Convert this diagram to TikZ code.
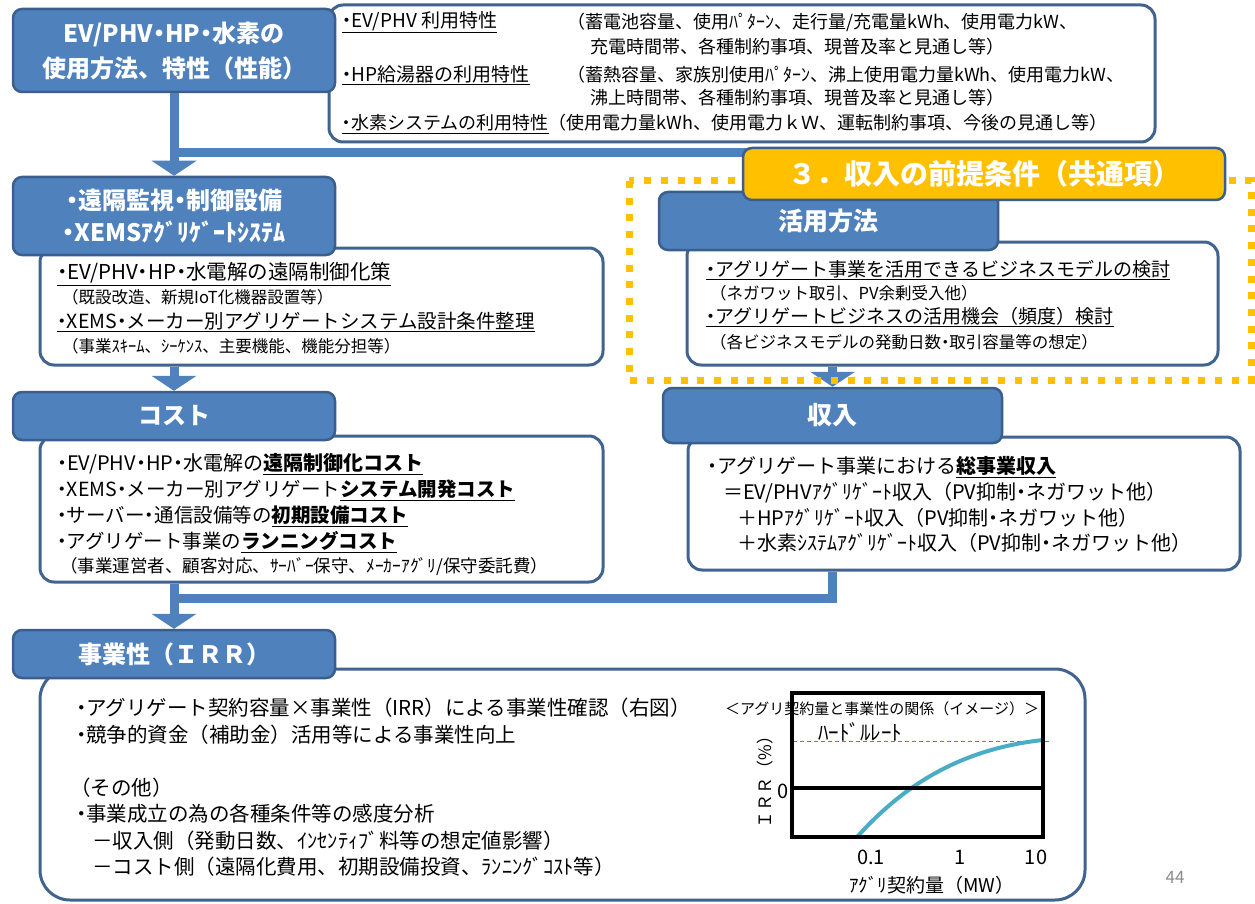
\documentclass[tikz,border=0pt]{standalone}
\usepackage{fontspec}
\setmainfont{Noto Sans CJK JP}
\newfontfamily\cjkfull{Noto Sans CJK JP}
\newfontfamily\pfont{Noto Sans CJK JP}[RawFeature=+palt]
\usetikzlibrary{calc}
\definecolor{hblue}{HTML}{4F81BD}
\definecolor{hborder}{HTML}{3A5F8F}
\definecolor{bborder}{HTML}{41638F}
\definecolor{ygold}{HTML}{FFC000}
\definecolor{curvec}{HTML}{4BACC6}
\definecolor{pgray}{HTML}{8C8C8C}
\newcommand\fs[2]{\fontsize{#1}{#2}\selectfont}
\newcommand\ubf[1]{\underline{\textbf{#1}}}
\newcommand\dt{{\pfont ・}}
\begin{document}
\begin{tikzpicture}[x=1pt,y=-1pt,
  hdr/.style={draw=hborder, line width=2.5pt, fill=hblue, rounded corners=9pt, text=white, font=\fs{24}{32}\bfseries, align=center, inner sep=0pt},
  wbox/.style={draw=bborder, line width=3pt, fill=white, rounded corners=14pt, inner sep=0pt},
  conn/.style={draw=hblue, line width=9pt},
  tipf/.style={fill=hblue},
  txt/.style={anchor=west, inner sep=0pt, font=\fs{19.5}{22}},
  sml/.style={anchor=west, inner sep=0pt, font=\fs{16.5}{19}},
  toptxt/.style={anchor=west, inner sep=0pt, font=\fs{18}{21}},
  ctxt/.style={inner sep=0pt, font=\fs{20}{22}},
]
\useasboundingbox (0,0) rectangle (1255,904);
\fill[white] (0,0) rectangle (1255,904);

% white content boxes
\node[wbox, minimum width=826pt, minimum height=137pt] (wb1) at (742,73.5) {};
\node[wbox, minimum width=563pt, minimum height=117pt] (wb2) at (321.5,306.5) {};
\node[wbox, minimum width=563pt, minimum height=146pt] (wb3) at (321.5,509) {};
\node[wbox, minimum width=1045pt, minimum height=231pt, rounded corners=30pt] (wb4) at (562.5,784.5) {};
\node[wbox, minimum width=531pt, minimum height=123pt] (wb5) at (952.5,303.5) {};
\node[wbox, minimum width=552pt, minimum height=133pt] (wb6) at (964,503.5) {};

% header boxes
\node[hdr, minimum width=322pt, minimum height=83pt, font=\fs{24}{35}\bfseries] (h1) at (174,50.5) {EV/PHV\dt HP\dt 水素の\\使用方法、特性（性能）};
\node[hdr, minimum width=322pt, minimum height=78pt] (h2) at (174,216) {\dt 遠隔監視\dt 制御設備\\\dt XEMSｱｸﾞﾘｹﾞｰﾄｼｽﾃﾑ};
\node[hdr, minimum width=322pt, minimum height=48pt] (h3) at (174,416) {コスト};
\node[hdr, minimum width=322pt, minimum height=48pt, font=\cjkfull\fs{24}{28}\bfseries] (h4) at (174,654) {事業性（ＩＲＲ）};
\node[hdr, minimum width=339pt, minimum height=58pt, font=\fs{25}{28}\bfseries] (h5) at (828.5,221) {活用方法};
\node[hdr, minimum width=339pt, minimum height=55pt, font=\fs{25}{28}\bfseries] (h6) at (832.5,415.5) {収入};

% connectors
\coordinate (j1) at (174,153);
\coordinate (j1e) at (800,153);
\coordinate (j3) at (174,598);
\draw[conn] (h1.south) -- ($(h2.north)+(0,-14)$);
\draw[conn] (j1) -- (j1e);
\fill[tipf] (h2.north) -- ++(-22.5,-15) -- ++(45,0) -- cycle;
\draw[conn] (h2.south |- wb2.south) -- ($(h3.north)+(0,-14)$);
\fill[tipf] (h3.north) -- ++(-22.5,-15) -- ++(45,0) -- cycle;
\draw[conn] (h3.south |- wb3.south) -- ($(h4.north)+(0,-14)$);
\draw[conn] (h6.south |- wb6.south) -- (h6.south |- j3) -- (j3);
\fill[tipf] (h4.north) -- ++(-22.5,-15) -- ++(45,0) -- cycle;
\draw[conn] (h6.north |- wb5.south) -- ($(h6.north)+(0,-14)$);
\fill[tipf] (h6.north) -- ++(-22.5,-15) -- ++(45,0) -- cycle;

% dotted frame and title
\draw[ygold, line width=7pt, dash pattern=on 7pt off 9.7pt] (629,181) rectangle (1251,380);
\node[draw=hborder, line width=2.5pt, fill=ygold, rounded corners=9pt, text=white, font=\cjkfull\fs{28}{30}\bfseries, minimum width=482pt, minimum height=52pt, inner sep=0pt] (yt) at (984,174) {３．収入の前提条件（共通項）};

% top box text
\node[toptxt, font=\fs{19}{21}] (a1) at (342,22) {\underline{\dt EV/PHV 利用特性}};
\node[toptxt] (a2) at (567,22) {（蓄電池容量、使用ﾊﾟﾀｰﾝ、走行量/充電量kWh、使用電力kW、};
\node[toptxt] (a3) at (590,47) {充電時間帯、各種制約事項、現普及率と見通し等）};
\node[toptxt, font=\fs{19}{21}] (a4) at (342,75) {\underline{\dt HP給湯器の利用特性}};
\node[toptxt] (a5) at (567,75) {（蓄熱容量、家族別使用ﾊﾟﾀｰﾝ、沸上使用電力量kWh、使用電力kW、};
\node[toptxt] (a6) at (590,98) {沸上時間帯、各種制約事項、現普及率と見通し等）};
\node[toptxt] (a7) at (342,124) {\underline{\dt 水素システムの利用特性}（使用電力量kWh、使用電力ｋＷ、運転制約事項、今後の見通し等）};

% box 2 text
\node[txt, font=\fs{20.5}{22}] (b1) at (57,274) {\underline{\dt EV/PHV\dt HP\dt 水電解の遠隔制御化策}};
\node[sml] (b2) at (62,297) {（既設改造、新規IoT化機器設置等）};
\node[txt] (b3) at (57,322) {\underline{\dt XEMS\dt メーカー別アグリゲートシステム設計条件整理}};
\node[sml] (b4) at (62,346) {（事業ｽｷｰﾑ、ｼｰｹﾝｽ、主要機能、機能分担等）};

% box 3 text
\node[txt, font=\fs{20}{22}] (c1) at (57,464) {\dt EV/PHV\dt HP\dt 水電解の\ubf{遠隔制御化コスト}};
\node[txt] (c2) at (57,490) {\dt XEMS\dt メーカー別アグリゲート\ubf{システム開発コスト}};
\node[txt] (c3) at (57,516) {\dt サーバー\dt 通信設備等の\ubf{初期設備コスト}};
\node[txt] (c4) at (57,542) {\dt アグリゲート事業の\ubf{ランニングコスト}};
\node[sml, font=\fs{17.5}{19}] (c5) at (60,567) {（事業運営者、顧客対応、ｻｰﾊﾞｰ保守、ﾒｰｶｰｱｸﾞﾘ/保守委託費）};

% box 5 text
\node[txt, font=\fs{19}{22}] (d1) at (706,270) {\underline{\dt アグリゲート事業を活用できるビジネスモデルの検討}};
\node[sml] (d2) at (710,293) {（ネガワット取引、PV余剰受入他）};
\node[txt, font=\fs{19}{22}] (d3) at (706,317) {\underline{\dt アグリゲートビジネスの活用機会（頻度）検討}};
\node[sml] (d4) at (710,342) {（各ビジネスモデルの発動日数\dt 取引容量等の想定）};

% box 6 text
\node[txt, font=\fs{20}{22}] (e1) at (707,467) {\dt アグリゲート事業における\ubf{総事業収入}};
\node[txt, font=\fs{20}{22}] (e2) at (723,493) {＝EV/PHVｱｸﾞﾘｹﾞｰﾄ収入（PV抑制\dt ネガワット他）};
\node[txt, font=\fs{20}{22}] (e3) at (737,518) {＋HPｱｸﾞﾘｹﾞｰﾄ収入（PV抑制\dt ネガワット他）};
\node[txt, font=\fs{20}{22}] (e4) at (737,543) {＋水素ｼｽﾃﾑｱｸﾞﾘｹﾞｰﾄ収入（PV抑制\dt ネガワット他）};

% bottom box text
\node[txt, font=\fs{20.5}{22}] (f1) at (76,708) {\dt アグリゲート契約容量×事業性（IRR）による事業性確認（右図）};
\node[txt, font=\fs{20.5}{22}] (f2) at (76,735) {\dt 競争的資金（補助金）活用等による事業性向上};
\node[txt, font=\fs{20.5}{22}] (f3) at (70,788) {（その他）};
\node[txt, font=\fs{20.5}{22}] (f4) at (76,814) {\dt 事業成立の為の各種条件等の感度分析};
\node[txt, font=\fs{20.5}{22}] (f5) at (92,841) {－収入側（発動日数、ｲﾝｾﾝﾃｨﾌﾞ料等の想定値影響）};
\node[txt, font=\fs{20.5}{22}] (f6) at (92,867) {－コスト側（遠隔化費用、初期設備投資、ﾗﾝﾆﾝｸﾞｺｽﾄ等）};

% chart
\draw[hblue, line width=1pt, dash pattern=on 4pt off 3pt] (793,741) -- (1052,741);
\draw[curvec, line width=4pt] (857,837) .. controls (895,795) and (950,750) .. (1043,740);
\draw[black, line width=3.5pt] (792,693) rectangle (1043,837);
\draw[black, line width=3.5pt] (792,788) -- (1043,788);
\node[inner sep=0pt, font=\fs{15}{18}] (g1) at (882,709) {＜アグリ契約量と事業性の関係（イメージ）＞};
\node[inner sep=0pt, font=\fs{21}{22}] (g2) at (860,732) {ﾊｰﾄﾞﾙﾚｰﾄ};
\node[inner sep=0pt, font=\cjkfull\fs{17}{20}, rotate=90] (g3) at (765,778) {ＩＲＲ（\%）};
\node[ctxt] (g4) at (783,791) {0};
\node[ctxt] (g5) at (871,857) {0.1};
\node[ctxt] (g6) at (960,857) {1};
\node[ctxt] (g7) at (1036,857) {10};
\node[ctxt, font=\fs{19}{22}] (g8) at (932,885) {ｱｸﾞﾘ契約量（MW）};
\node[inner sep=0pt, font=\fs{17}{20}, text=pgray] (pn) at (1175,877) {44};
\end{tikzpicture}
\end{document}
